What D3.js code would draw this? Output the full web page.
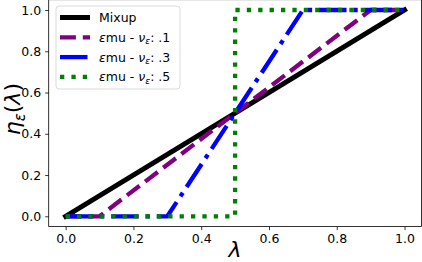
<!DOCTYPE html>
<html><head><meta charset="utf-8">
<script src="https://cdn.jsdelivr.net/npm/d3@7"></script>
<style>
body{margin:0;background:#fff;}
svg{display:block;font-family:"DejaVu Sans",sans-serif;}
</style></head>
<body><svg id="c" width="422" height="262"></svg>
<script>
const xTicks = [0, 0.2, 0.4, 0.6, 0.8, 1.0];
const yTicks = [0, 0.2, 0.4, 0.6, 0.8, 1.0];
const tickLabels = ["0.0","0.2","0.4","0.6","0.8","1.0"];
const seriesNames = ["Mixup", ".1", ".3", ".5"];
const mixupPts = [[0,0],[1,1]];
const nu1Pts = [[0,0],[0.1,0],[0.9,1],[1,1]];
const nu3Pts = [[0,0],[0.3,0],[0.7,1],[1,1]];
const nu5Pts = [[0,0],[0.5,0],[0.5,1],[1,1]];

const lw = 4.3;
const styles = [
  {pts: mixupPts, color:"#000000", width:5, dash:null, cap:"square"},
  {pts: nu1Pts, color:"#800080", width:lw, dash:[3.7*lw,1.6*lw], cap:"butt"},
  {pts: nu3Pts, color:"#0000ff", width:lw, dash:[6.4*lw,1.6*lw,1*lw,1.6*lw], cap:"butt"},
  {pts: nu5Pts, color:"#008000", width:lw, dash:[1*lw,1.65*lw], cap:"butt"}
];

const svg = d3.select("#c");
const x = d3.scaleLinear().domain([-0.05,1.05]).range([48.7,421.5]);
const y = d3.scaleLinear().domain([-0.05,1.05]).range([226.6,-0.3]);

// axes
const xAxis = d3.axisBottom(x).tickValues(xTicks).tickFormat((d,i)=>tickLabels[i]).tickSize(3.5).tickPadding(4);
const yAxis = d3.axisLeft(y).tickValues(yTicks).tickFormat((d,i)=>tickLabels[i]).tickSize(3.5).tickPadding(4);
const gx = svg.append("g").attr("transform",`translate(0,${y.range()[0]})`).call(xAxis);
const gy = svg.append("g").attr("transform",`translate(${x.range()[0]},0)`).call(yAxis);
[gx,gy].forEach(g=>{
  g.select(".domain").remove();
  g.selectAll("line").attr("stroke","#000").attr("stroke-width",0.8);
  g.selectAll("text").attr("font-family","DejaVu Sans").attr("font-size",12.5).attr("fill","#000");
});

// lines
const line = d3.line().x(d=>x(d[0])).y(d=>y(d[1]));
const plot = svg.append("g");
styles.forEach(s=>{
  plot.append("path").attr("d",line(s.pts)).attr("fill","none")
    .attr("stroke",s.color).attr("stroke-width",s.width)
    .attr("stroke-linecap",s.cap).attr("stroke-linejoin","round")
    .attr("stroke-dasharray",s.dash?s.dash.join(","):null);
});

// spines
svg.append("rect").attr("x",x.range()[0]).attr("y",y.range()[1])
  .attr("width",x.range()[1]-x.range()[0]).attr("height",y.range()[0]-y.range()[1])
  .attr("fill","none").attr("stroke","#000").attr("stroke-width",0.8);

// legend
const lg = svg.append("g");
lg.append("rect").attr("x",56).attr("y",6).attr("width",124).attr("height",83).attr("rx",3)
  .attr("fill","#fff").attr("fill-opacity",0.8).attr("stroke","#d0d0d0").attr("stroke-width",0.8);
styles.forEach((s,i)=>{
  const yy = 17.5 + i*19.8;
  lg.append("line").attr("x1",60).attr("x2",90).attr("y1",yy).attr("y2",yy)
    .attr("stroke",s.color).attr("stroke-width",s.width)
    .attr("stroke-linecap","butt")
    .attr("stroke-dasharray",s.dash?s.dash.join(","):null);
  const t = lg.append("text").attr("x",99).attr("y",yy+4.5).attr("font-size",12.5).attr("fill","#000");
  if(i===0){ t.text(seriesNames[0]); }
  else {
    t.append("tspan").attr("font-style","italic").text("ε");
    t.append("tspan").text("mu - ");
    t.append("tspan").attr("font-style","italic").text("ν");
    t.append("tspan").attr("font-style","italic").attr("font-size",9).attr("dy",2.5).text("ε");
    t.append("tspan").attr("dy",-2.5).text(": " + seriesNames[i]);
  }
});

// axis labels
svg.append("text").attr("x",(x.range()[0]+x.range()[1])/2).attr("y",257)
  .attr("text-anchor","middle").attr("font-size",22).attr("font-style","italic").text("λ");
const yl = svg.append("text").attr("transform",`translate(20,${(y.range()[0]+y.range()[1])/2 - 4}) rotate(-90)`)
  .attr("text-anchor","middle").attr("font-size",22);
yl.append("tspan").attr("font-style","italic").text("η");
yl.append("tspan").attr("font-style","italic").attr("font-size",15).attr("dy",5).text("ε");
yl.append("tspan").attr("dy",-5).text("(");
yl.append("tspan").attr("font-style","italic").text("λ");
yl.append("tspan").text(")");
</script></body></html>
